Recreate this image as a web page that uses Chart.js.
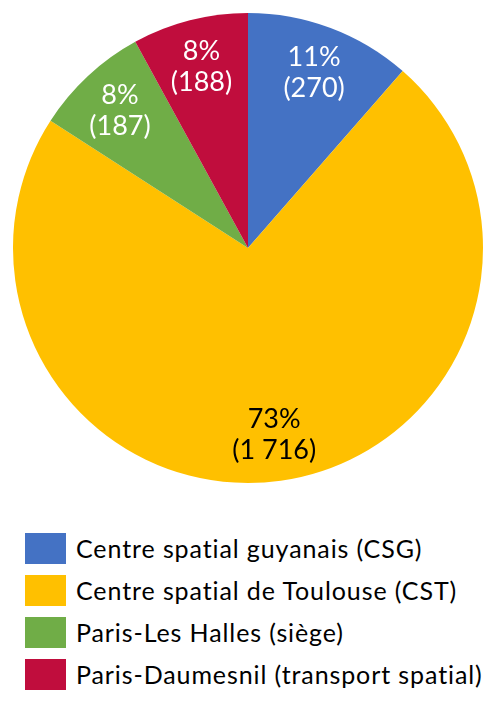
<!DOCTYPE html>
<html>
<head>
<meta charset="utf-8">
<script src="https://cdn.jsdelivr.net/npm/chart.js@4"></script>
<style>
  body { margin: 0; background: #fff; font-family: Lato, "Open Sans", sans-serif; }
  #wrap { position: relative; width: 496px; height: 496px; }
  #legend { position: absolute; left: 25px; top: 527px; }
  .item { display: flex; align-items: center; height: 42px; }
  .box { width: 41px; height: 31px; margin-right: 10px; }
  .lbl { font-size: 25px; letter-spacing: 0.9px; color: #000; white-space: nowrap; font-variant-ligatures: none; }
</style>
</head>
<body>
<div id="wrap"><canvas id="myChart"></canvas></div>
<div id="legend"></div>
<script>
const sites = ['Centre spatial guyanais (CSG)', 'Centre spatial de Toulouse (CST)', 'Paris-Les Halles (siège)', 'Paris-Daumesnil (transport spatial)'];
const effectifs = [270, 1716, 187, 188];
const pourcents = ['11%', '73%', '8%', '8%'];
const valeurs = ['(270)', '(1 716)', '(187)', '(188)'];
const couleurs = ['#4472C4', '#FFC000', '#70AD47', '#C00D3D'];
const couleursTexte = ['#fff', '#000', '#fff', '#fff'];

// labels drawn inside each slice
const sliceLabels = {
    id: 'sliceLabels',
    afterDatasetsDraw(chart) {
        const ctx = chart.ctx;
        const meta = chart.getDatasetMeta(0);
        ctx.save();
        ctx.font = '27px Lato, "Open Sans", sans-serif';
        ctx.textAlign = 'center';
        ctx.textBaseline = 'middle';
        meta.data.forEach((arc, i) => {
            const mid = (arc.startAngle + arc.endAngle) / 2;
            const r = arc.outerRadius * 0.8;
            const x = arc.x + Math.cos(mid) * r;
            const y = arc.y + Math.sin(mid) * r;
            ctx.fillStyle = couleursTexte[i];
            ctx.fillText(pourcents[i], x, y - 15);
            ctx.fillText(valeurs[i], x, y + 16);
        });
        ctx.restore();
    }
};

new Chart(document.getElementById('myChart'), {
    type: 'pie',
    data: {
        labels: sites,
        datasets: [{
            data: effectifs,
            backgroundColor: couleurs,
            borderWidth: 0
        }]
    },
    options: {
        responsive: true,
        maintainAspectRatio: false,
        animation: false,
        layout: { padding: 13 },
        plugins: {
            legend: { display: false },
            tooltip: { enabled: false }
        }
    },
    plugins: [sliceLabels]
});

const legend = document.getElementById('legend');
sites.forEach((s, i) => {
    const row = document.createElement('div');
    row.className = 'item';
    row.innerHTML = '<div class="box" style="background:' + couleurs[i] + '"></div><span class="lbl">' + s + '</span>';
    legend.appendChild(row);
});
</script>
</body>
</html>
